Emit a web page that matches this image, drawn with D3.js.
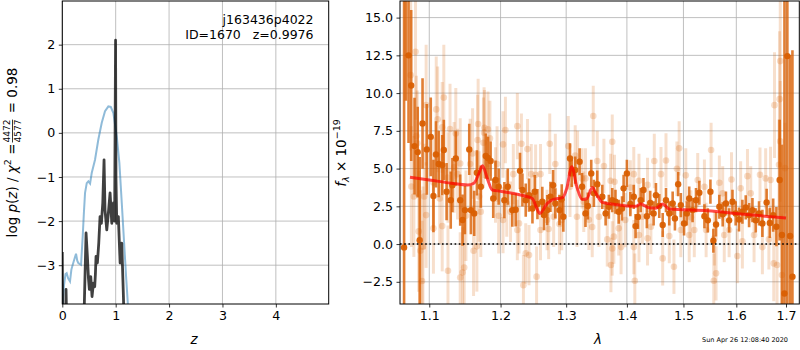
<!DOCTYPE html>
<html>
<head>
<meta charset="utf-8">
<script src="https://cdn.jsdelivr.net/npm/d3@7"></script>
<style>
  body { margin: 0; background: #fff; }
  text { font-family: "DejaVu Sans", sans-serif; fill: #000; }
</style>
</head>
<body>
<div id="chart"></div>
<script>
// p(z) panel: redshift grid values
const pzFit = [[0.000,-4.2],[0.008,-3.86],[0.032,-3.45],[0.060,-3.20],[0.082,-3.18],[0.110,-3.30],
  [0.144,-3.37],[0.170,-3.10],[0.195,-2.99],[0.230,-2.85],[0.257,-2.74],[0.280,-2.90],[0.300,-2.95],
  [0.351,-2.99],[0.382,-2.35],[0.405,-1.80],[0.426,-1.36],[0.458,-1.14],[0.488,-1.10],[0.520,-1.15],
  [0.551,-0.91],[0.613,-0.61],[0.675,-0.15],[0.739,0.23],[0.800,0.49],[0.863,0.60],[0.908,0.59],
  [0.957,0.45],[1.020,-0.08],[1.069,-0.68],[1.114,-1.59],[1.158,-2.50],[1.195,-3.26],[1.227,-3.86],
  [1.250,-4.3]];
const pzChi = [[0.000,-2.70],[0.010,-4.5],[0.060,-4.5],[0.070,-3.55],[0.085,-4.5],[0.400,-4.5],
  [0.445,-2.27],[0.470,-2.80],[0.490,-3.30],[0.507,-3.55],[0.533,-3.26],[0.557,-3.71],[0.582,-3.41],
  [0.607,-3.49],[0.620,-3.20],[0.632,-2.80],[0.657,-2.95],[0.683,-2.50],[0.707,-1.90],[0.732,-2.05],
  [0.758,-1.59],[0.782,-0.61],[0.800,-1.75],[0.833,-2.20],[0.857,-1.90],[0.895,-1.36],[0.927,-2.05],
  [0.957,-1.59],[0.980,-2.0],[0.9976,2.10],[1.005,-1.0],[1.020,-2.05],[1.050,-1.90],[1.083,-2.95],
  [1.114,-2.50],[1.145,-3.71],[1.160,-4.5]];

// spectrum panel: [lambda, flux, error]
const specMain = [[1.0667,-0.22,30],[1.0690,17.5,8],[1.0725,12.5,5.8],[1.0760,10.5,5],[1.0804,6.49,3.2],
  [1.0846,6.09,3],[1.0872,0.26,5.5],[1.0910,7.99,3],[1.0967,6.27,3],[1.1020,7.10,2.6],[1.1056,3.18,2.4],
  [1.1090,5.94,2.2],[1.1127,5.30,2.2],[1.1175,5.23,2],[1.1197,6.23,2],[1.1235,3.47,1.9],[1.1292,2.91,1.9],
  [1.1315,3.90,1.8],[1.1362,5.67,1.8],[1.1423,2.91,1.7],[1.1456,1.59,1.7],[1.1489,2.25,1.6],[1.1550,6.27,1.7],
  [1.1573,2.25,1.6],[1.1620,2.03,1.5],[1.1658,4.72,1.5],[1.1714,3.80,1.4],[1.1785,5.83,1.5],[1.1817,5.70,1.4],
  [1.1855,5.50,1.3],[1.1893,3.02,1.3],[1.1926,4.24,1.3],[1.1972,3.80,1.2],
  [1.2056,2.91,1.2],[1.2106,3.80,1.2],[1.2173,2.25,1.1],[1.2223,2.27,1.1],[1.2288,4.85,1.2],[1.2324,3.58,1.1],
  [1.2374,2.91,1.1],[1.2424,3.24,1.1],[1.2476,2.36,1.0],[1.2511,3.47,1.1],[1.2552,2.65,1.0],[1.2627,2.80,1.0],
  [1.2652,1.92,1.0],[1.2703,2.25,1.0],[1.2753,3.13,1.0],[1.2794,3.90,1.0],[1.2829,2.69,1.0],[1.2894,2.25,1.0],
  [1.2930,2.96,1.0],[1.2955,1.81,1.0],[1.3061,5.67,1.0],[1.3089,4.68,0.9],[1.3144,4.90,0.9],[1.3215,5.45,0.9],
  [1.3255,3.80,0.9],[1.3310,2.03,0.9],[1.3348,2.52,0.9],[1.3404,4.68,0.9],[1.3447,3.36,0.9],[1.3503,3.97,0.9],
  [1.3586,3.13,0.8],[1.3641,2.03,0.8],[1.3695,2.47,0.8],[1.3752,2.91,0.8],[1.3806,2.80,0.8],[1.3861,2.14,0.8],
  [1.3917,2.36,0.8],[1.3944,3.69,0.9],[1.4000,4.68,0.9],[1.4059,2.65,0.8],[1.4118,3.13,0.8],[1.4149,1.19,0.8],
  [1.4190,1.80,0.8],[1.4238,2.91,0.8],[1.4286,3.58,0.8],[1.4345,1.84,0.8],[1.4404,2.73,0.8],[1.4464,2.03,0.8],
  [1.4505,3.24,0.8],[1.4564,2.52,0.8],[1.4625,1.26,0.8],[1.4684,2.91,0.8],[1.4743,2.03,0.8],[1.4804,2.69,0.8],
  [1.4845,1.70,0.8],[1.4904,3.97,0.8],[1.4952,2.58,0.8],[1.5011,1.37,0.8],[1.5062,2.03,0.8],[1.5106,3.02,0.8],
  [1.5168,2.25,0.8],[1.5232,2.91,0.8],[1.5294,3.40,0.8],
  [1.5389,1.84,0.8],[1.5453,1.57,0.8],[1.5502,3.47,0.8],[1.5558,0.22,0.8],[1.5609,1.30,0.8],[1.5672,2.47,0.8],
  [1.5736,1.97,0.8],[1.5798,2.69,0.8],[1.5860,1.57,0.8],[1.5925,2.80,0.8],[1.5987,2.03,0.8],[1.6052,1.63,0.8],
  [1.6119,2.14,0.8],[1.6185,2.43,0.8],[1.6251,1.92,0.8],[1.6318,2.25,0.8],[1.6384,1.57,0.8],[1.6450,2.03,0.8],
  [1.6517,1.37,0.9],[1.6603,2.76,0.9],[1.6668,1.40,1.0],[1.6736,1.92,1.1],[1.6802,1.15,1.3],[1.6868,4.24,4],
  [1.6916,0.60,6],[1.6968,-3.27,25],[1.7028,12.45,20],[1.7085,0.53,12],[1.7134,-2.16,15]];

const specOther = [[1.0753,11.19,5],[1.0817,12.74,4.5],[1.0762,3.81,4],[1.0795,3.15,4],[1.0829,7.15,4],
  [1.0840,6.68,3.5],[1.0859,0.84,4],[1.0881,-0.44,4],[1.0903,-2.45,4],[1.0915,-0.18,4],[1.0932,3.15,3.5],
  [1.0958,9.20,4],[1.0958,1.92,3.5],[1.1056,4.08,3],[1.1056,1.04,3],[1.1094,8.92,3.5],[1.1113,8.26,3.5],
  [1.1141,3.02,3],[1.1175,7.73,3],[1.1175,1.19,3],[1.1197,9.70,3.5],[1.1254,4.41,3],[1.1254,-1.77,3],
  [1.1282,7.62,3],[1.1338,5.08,3],[1.1362,7.33,3],[1.1386,4.63,3],[1.1423,5.34,3],[1.1423,-2.21,3],
  [1.1456,-1.88,3],[1.1479,-1.55,3],[1.1503,1.88,3],[1.1563,5.30,3],[1.1597,6.00,3],[1.1611,-0.44,3],
  [1.1658,-0.15,3],[1.1668,6.89,3],[1.1676,7.95,3],[1.1690,3.15,3],[1.1714,2.14,3],[1.1752,6.71,3],
  [1.1761,7.38,3],[1.1766,7.70,2.5],[1.1817,7.60,2.5],[1.1845,7.00,2.5],[1.1926,3.92,2.5],[1.1949,5.30,2.5],
  [1.1972,1.88,2.5],
  [1.2036,6.60,2.2],[1.2036,1.59,2.2],[1.2071,7.55,2.2],[1.2091,2.69,2.2],[1.2147,2.14,2],[1.2188,4.63,2],
  [1.2248,7.81,2.2],[1.2248,0.93,2],[1.2273,1.37,2],[1.2309,6.64,2],[1.2339,-2.72,2],[1.2374,-0.62,2],
  [1.2400,6.29,2],[1.2424,-0.73,2],[1.2458,4.63,2],[1.2524,4.59,2],[1.2539,-2.16,2],[1.2599,4.63,2],
  [1.2599,0.93,2],[1.2700,1.59,2],[1.2725,1.00,2],[1.2742,6.64,2],[1.2803,1.81,2],[1.2829,5.30,2],
  [1.2894,1.33,2],[1.2930,1.59,2],[1.3033,6.49,2],[1.3061,3.80,2],[1.3144,5.87,2],[1.3172,1.81,2],
  [1.3182,5.50,2],[1.3255,4.35,2],[1.3282,2.80,2],[1.3310,4.35,2],[1.3365,1.61,2],[1.3437,8.48,2],
  [1.3420,1.13,2],[1.3503,5.50,2],[1.3530,1.81,2],
  [1.3613,5.17,1.8],[1.3668,0.31,1.8],[1.3724,4.19,1.8],[1.3730,-1.39,1.8],[1.3752,6.78,1.8],[1.3752,-0.29,1.8],
  [1.3779,0.49,1.8],[1.3790,4.12,1.8],[1.3861,1.04,1.8],[1.3901,-0.20,1.8],[1.3972,1.59,1.8],[1.4059,3.75,1.8],
  [1.4118,4.63,1.8],[1.4118,-0.20,1.8],[1.4136,-2.43,1.8],[1.4208,4.19,1.8],[1.4208,0.60,1.8],[1.4268,1.81,1.8],
  [1.4357,3.92,1.8],[1.4357,0.38,1.8],[1.4416,1.15,1.8],[1.4476,5.50,1.8],[1.4595,4.63,1.8],[1.4625,-0.95,1.8],
  [1.4684,5.54,1.8],[1.4743,0.53,1.8],[1.4827,-1.50,1.8],[1.4881,4.99,1.8],[1.4922,6.34,1.8],[1.4952,0.93,1.8],
  [1.5043,4.55,1.8],[1.5106,0.60,1.8],[1.5138,1.77,1.8],[1.5200,0.93,1.8],[1.5264,4.24,1.8],
  [1.5389,3.80,1.8],[1.5421,0.93,1.8],[1.5515,6.23,1.8],[1.5566,-2.43,1.8],[1.5577,0.38,1.8],[1.5609,-1.94,1.8],
  [1.5672,4.06,1.8],[1.5736,3.36,1.8],[1.5766,0.60,1.8],[1.5860,0.93,1.8],[1.5906,4.28,1.8],[1.6020,-0.79,1.8],
  [1.6085,3.69,1.8],[1.6119,0.18,1.8],[1.6219,4.50,1.8],[1.6284,3.36,1.8],[1.6350,0.60,1.8],[1.6469,4.59,1.8],
  [1.6517,-0.20,1.8],[1.6583,4.35,2],[1.6648,0.31,2],[1.6682,4.24,2.2],[1.6763,9.20,3.5],[1.6748,-1.28,2.5],
  [1.6815,-1.39,3],[1.6867,9.60,4.5],[1.6881,12.12,5.5],[1.6881,6.80,4],[1.6855,5.25,3],[1.6915,-2.05,4],
  [1.6980,5.03,3]];

// best-fit template
const modelSpec = [[1.0744,4.42],[1.100,4.25],[1.130,4.03],[1.1527,3.91],[1.162,4.05],[1.168,4.6],
  [1.1738,5.19],[1.181,4.3],[1.1879,3.58],[1.200,3.50],[1.2296,3.25],[1.2473,3.02],[1.253,2.5],
  [1.2588,2.03],[1.270,2.68],[1.280,2.96],[1.2942,3.07],[1.301,3.7],[1.3089,5.12],[1.317,3.8],
  [1.3255,2.96],[1.333,3.0],[1.3421,3.75],[1.349,3.3],[1.3586,2.76],[1.380,2.62],[1.400,2.52],
  [1.415,2.5],[1.4236,2.65],[1.4386,2.40],[1.4505,2.38],[1.4625,2.65],[1.4743,2.32],[1.5453,2.20],
  [1.6085,1.99],[1.700,1.72]];

const zTicks = [0, 1, 2, 3, 4];
const pzTicks = [-3, -2, -1, 0, 1, 2];
const lamTicks = [1.1, 1.2, 1.3, 1.4, 1.5, 1.6, 1.7];
const fluxTicks = [-2.5, 0, 2.5, 5, 7.5, 10, 12.5, 15];
const titleLines = ["j163436p4022", "ID=1670\u00a0\u00a0\u00a0z=0.9976"];
const stamp = "Sun Apr 26 12:08:40 2020";

const W = 800, H = 350;
const svg = d3.select("#chart").append("svg")
  .attr("width", W).attr("height", H);

const zX = d3.scaleLinear([0, 4.99], [62.3, 328.7]);
const pzY = d3.scaleLinear([-3.88, 2.99], [304, 1]);
const lamX = d3.scaleLog([1.0614, 1.7278], [400, 799.3]);
const fY = d3.scaleLinear([-3.97, 16.1], [304, 1]);

/**
 * panel() draws grid, clip and axes for one axes box, returns the clipped group
 */
function panel(id, x, y, xt, yt, xfmt, yfmt) {
  const [x0, x1] = x.range(), [y1, y0] = y.range();
  svg.append("clipPath").attr("id", id)
    .append("rect").attr("x", x0).attr("y", y0).attr("width", x1 - x0).attr("height", y1 - y0);

  const grid = svg.append("g").attr("stroke", "#b0b0b0").attr("stroke-width", 0.8);
  grid.selectAll(".vx").data(xt).enter().append("line")
    .attr("x1", d => x(d)).attr("x2", d => x(d)).attr("y1", y0).attr("y2", y1);
  grid.selectAll(".hy").data(yt).enter().append("line")
    .attr("x1", x0).attr("x2", x1).attr("y1", d => y(d)).attr("y2", d => y(d));

  const g = svg.append("g").attr("clip-path", `url(#${id})`);

  const ax = svg.append("g").attr("transform", `translate(0,${y1})`)
    .call(d3.axisBottom(x).tickValues(xt).tickFormat(xfmt).tickSize(3.5).tickPadding(3.5));
  const ay = svg.append("g").attr("transform", `translate(${x0},0)`)
    .call(d3.axisLeft(y).tickValues(yt).tickFormat(yfmt).tickSize(3.5).tickPadding(3.5));
  [ax, ay].forEach(a => {
    a.select(".domain").remove();
    a.selectAll("text").attr("font-size", 12.6).attr("font-family", "DejaVu Sans");
    a.selectAll("line").attr("stroke-width", 0.8);
  });
  return {g: g, frame: () => svg.append("rect").attr("x", x0).attr("y", y0)
    .attr("width", x1 - x0).attr("height", y1 - y0)
    .attr("fill", "none").attr("stroke", "#000").attr("stroke-width", 1)};
}

// left panel
const left = panel("clipL", zX, pzY, zTicks, pzTicks, d3.format("d"), d3.format("d"));
const pzLine = d3.line().x(d => zX(d[0])).y(d => pzY(d[1]));
left.g.append("path").datum(pzFit).attr("d", pzLine)
  .attr("fill", "none").attr("stroke", "#1f77b4").attr("stroke-opacity", 0.5).attr("stroke-width", 2);
left.g.append("path").datum(pzChi).attr("d", pzLine)
  .attr("fill", "none").attr("stroke", "#000").attr("stroke-opacity", 0.75)
  .attr("stroke-width", 2.8).attr("stroke-linejoin", "round");
left.frame();

svg.selectAll(".ttl").data(titleLines).enter().append("text")
  .attr("x", 313.5).attr("y", (d, i) => 23.5 + i * 15)
  .attr("text-anchor", "end").attr("font-size", 12.5).text(d => d);

// right panel
const right = panel("clipR", lamX, fY, lamTicks, fluxTicks, d3.format(".1f"), d3.format(".1f"));
const orange = "#d95f02";

function errPts(data, op, barW, r) {
  const gg = right.g.append("g");
  gg.selectAll("line").data(data).enter().append("line")
    .attr("x1", d => lamX(d[0])).attr("x2", d => lamX(d[0]))
    .attr("y1", d => fY(d[1] - d[2])).attr("y2", d => fY(d[1] + d[2]))
    .attr("stroke", orange).attr("stroke-opacity", op.bar).attr("stroke-width", barW);
  gg.selectAll("circle").data(data).enter().append("circle")
    .attr("cx", d => lamX(d[0])).attr("cy", d => fY(d[1])).attr("r", r)
    .attr("fill", orange).attr("fill-opacity", op.dot);
}
errPts(specOther, {bar: 0.2, dot: 0.22}, 3, 3.3);
errPts(specMain, {bar: 0.8, dot: 0.95}, 2.6, 3.2);

right.g.append("line")
  .attr("x1", lamX.range()[0]).attr("x2", lamX.range()[1]).attr("y1", fY(0)).attr("y2", fY(0))
  .attr("stroke", "#000").attr("stroke-width", 1.6).attr("stroke-dasharray", "1.6,2.6");

right.g.append("path").datum(modelSpec)
  .attr("d", d3.line().x(d => lamX(d[0])).y(d => fY(d[1])).curve(d3.curveMonotoneX))
  .attr("fill", "none").attr("stroke", "#ff0000").attr("stroke-opacity", 0.7).attr("stroke-width", 3);
right.frame();

// axis labels
svg.append("text").attr("x", 194).attr("y", 344).attr("text-anchor", "middle")
  .attr("font-size", 13.5).attr("font-style", "italic").text("z");
svg.append("text").attr("x", 598).attr("y", 344).attr("text-anchor", "middle")
  .attr("font-size", 13.5).attr("font-style", "italic").text("λ");

// left y label with a stacked fraction
const yl = svg.append("g");
const t1 = yl.append("text").attr("font-size", 13.5);
t1.append("tspan").text("log ");
t1.append("tspan").attr("font-style", "italic").text("p");
t1.append("tspan").text("(");
t1.append("tspan").attr("font-style", "italic").text("z");
t1.append("tspan").text(") / ");
t1.append("tspan").attr("font-style", "italic").text("χ");
t1.append("tspan").attr("font-size", 9.5).attr("dy", -6).text("2");
t1.append("tspan").attr("dy", 6).text(" = ");
const w1 = t1.node().getComputedTextLength();
const num = yl.append("text").attr("font-size", 9).attr("y", -7).text("4472");
const den = yl.append("text").attr("font-size", 9).attr("y", 4).text("4577");
const wf = Math.max(num.node().getComputedTextLength(), den.node().getComputedTextLength());
num.attr("x", w1 + 1); den.attr("x", w1 + 1);
yl.append("line").attr("x1", w1 + 1).attr("x2", w1 + 1 + wf).attr("y1", -4.5).attr("y2", -4.5)
  .attr("stroke", "#000").attr("stroke-width", 0.8);
const t2 = yl.append("text").attr("font-size", 13.5).attr("x", w1 + wf + 3).text(" = 0.98")
  .style("white-space", "pre");
const wAll = w1 + wf + 3 + t2.node().getComputedTextLength();
yl.attr("transform", `translate(17,${152.5 + wAll / 2}) rotate(-90)`);

// right y label
const fl = svg.append("text").attr("font-size", 13.5).attr("text-anchor", "middle")
  .attr("transform", "translate(346,153) rotate(-90)");
fl.append("tspan").attr("font-style", "italic").text("f");
fl.append("tspan").attr("font-style", "italic").attr("font-size", 9.5).attr("dy", 3).text("λ");
fl.append("tspan").attr("dy", -3).text(" × 10");
fl.append("tspan").attr("font-size", 9.5).attr("dy", -6).text("−19");

svg.append("text").attr("x", 788).attr("y", 342).attr("text-anchor", "end")
  .attr("font-size", 6.5).text(stamp);
</script>
</body>
</html>
